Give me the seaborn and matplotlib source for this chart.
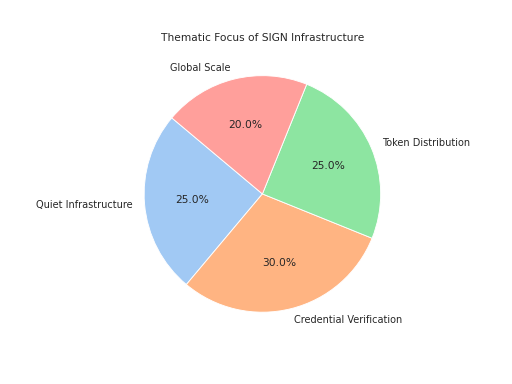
import matplotlib
matplotlib.use("Agg")
import matplotlib.pyplot as plt
import seaborn as sns

labels = ["Quiet Infrastructure", "Credential Verification", "Token Distribution", "Global Scale"]
values = [25, 30, 25, 20]

sns.set_style("white")
colors = sns.color_palette("pastel")[:len(values)]

fig, ax = plt.subplots(figsize=(8, 6), dpi=64)
wedges, texts, autotexts = ax.pie(values, labels=labels, colors=colors, autopct="%1.1f%%",
                                  startangle=140,
                                  textprops={"fontsize": 11, "color": "0.15"})
for t in autotexts:
    t.set_fontsize(12)
ax.set_title("Thematic Focus of SIGN Infrastructure", fontsize=12, color="0.15")
fig.savefig("out.png", dpi=64)
